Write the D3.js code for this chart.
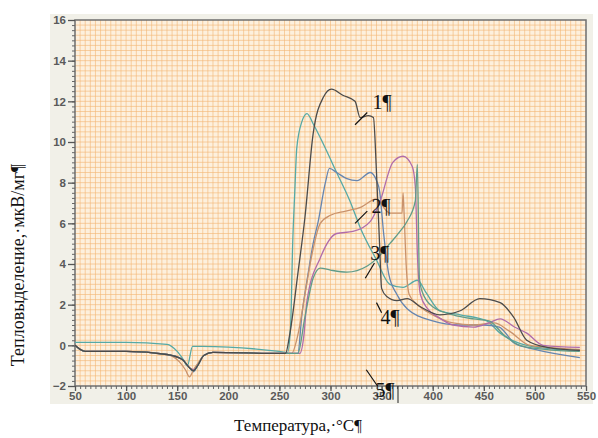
<!DOCTYPE html>
<html>
<head>
<meta charset="utf-8">
<script src="https://cdn.jsdelivr.net/npm/d3@7"></script>
<style>
	body { margin: 0; background: #fff; }
	svg { display: block; }
	.tick text { font-family: 'Liberation Sans', Arial, sans-serif; font-weight: bold; font-size: 11.5px; fill: #5a5a5a; }
	.ttl { font-family: 'Liberation Serif', 'Times New Roman', serif; fill: #111; }
</style>
</head>
<body>
<svg id="chart" width="598" height="438"></svg>
<script>
// ось X - температура, ось Y - тепловыделение
var xTicks = [50, 100, 150, 200, 250, 300, 350, 400, 450, 500, 550]
var yTicks = [-2, 0, 2, 4, 6, 8, 10, 12, 14, 16]

// 1 - тёмная
var temps1 = [50,55,60,100,140,155,162,166,170,176,185,250,256,260,268,275,283,293,301,312,324,329,337,342,345,348,350,355,365,375,388,407,427,446,466,479,492,512,544]
var vals1 = [0,-0.2,-0.3,-0.3,-0.45,-0.7,-1.1,-1.25,-1.0,-0.5,-0.35,-0.4,-0.4,0.5,3.5,6.3,10.4,12.2,12.6,12.3,12.0,11.2,11.3,11.2,8.5,5.0,2.8,2.4,2.2,2.3,1.9,1.5,1.7,2.3,2.1,1.4,0.25,-0.1,-0.25]

// бирюзовая
var temps2 = [50,55,100,140,150,156,160,165,175,250,258,261,263,265,267,272,277,283,293,306,319,329,345,358,371,385,394,407,427,453,466,485,512,544]
var vals2 = [0.15,0.15,0.15,0.05,-0.3,-0.7,-1.0,-0.05,-0.05,-0.3,-0.35,1,5,7.5,9.7,11,11.4,10.9,9.9,8.5,7.1,5.8,4.2,3.0,2.85,3.2,2.55,1.7,1.5,1.2,0.6,0.1,-0.15,-0.25]

// синяя
var temps3 = [50,55,60,100,140,155,162,166,170,176,185,250,268,272,278,283,288,295,299,306,316,326,339,345,348,352,357,365,375,400,425,450,465,480,500,544]
var vals3 = [0,-0.2,-0.3,-0.3,-0.45,-0.7,-1.1,-1.3,-1.0,-0.5,-0.35,-0.4,-0.4,1.5,3.5,5,6.1,8.0,8.7,8.5,8.2,8.1,8.5,8.1,7.6,5.5,3.5,2.5,1.8,1.2,1.0,1.0,0.9,0.1,-0.2,-0.6]

// 2 - коричневая
var temps4 = [50,55,60,100,140,152,158,162,166,170,176,185,250,262,268,275,282,290,300,315,330,345,355,358,370,371,372,374,377,385,400,420,440,460,475,495,544]
var vals4 = [0,-0.2,-0.3,-0.3,-0.45,-0.8,-1.2,-1.55,-1.2,-0.9,-0.5,-0.35,-0.4,-0.4,0.5,2.5,4.5,6.0,6.4,6.6,6.8,7.2,6.6,6.5,6.5,7.5,6.5,4.0,2.5,2.0,1.5,1.1,1.0,1.1,0.7,0.0,-0.2]

// розовая
var temps5 = [50,55,60,100,140,155,162,166,170,176,185,250,270,274,277,290,306,322,339,348,361,371,380,383,385,388,395,405,420,440,455,466,480,492,508,544]
var vals5 = [0,-0.2,-0.3,-0.3,-0.45,-0.7,-1.1,-1.2,-1.0,-0.5,-0.35,-0.4,-0.4,0.5,2.2,4.3,5.5,5.6,6.1,7.0,9.0,9.3,8.8,7.8,4.5,2.5,1.8,1.4,1.0,0.9,1.1,1.3,0.9,0.6,0.0,-0.1]

// 3 - зелёная
var temps6 = [50,55,60,100,140,155,162,166,170,176,185,250,268,275,283,290,300,316,336,346,358,368,375,383,385,387,390,400,420,440,455,470,485,510,544]
var vals6 = [0,-0.2,-0.3,-0.3,-0.45,-0.7,-1.1,-1.25,-1.0,-0.5,-0.35,-0.4,-0.4,1.4,3.3,3.8,3.7,3.6,3.9,4.3,5.0,5.6,6.1,7.1,8.9,3.3,2.6,1.9,1.5,1.3,1.2,0.5,0.0,-0.2,-0.3]

var series = [
	{ t: temps2, v: vals2, c: '#55a9a6' },
	{ t: temps3, v: vals3, c: '#6585b0' },
	{ t: temps4, v: vals4, c: '#c9926c' },
	{ t: temps5, v: vals5, c: '#b06cab' },
	{ t: temps6, v: vals6, c: '#5f9c8a' },
	{ t: temps1, v: vals1, c: '#4b4b4b' }
]

// подписи кривых
var labelText = ['1¶', '2¶', '3¶', '4¶', '5¶']
var labelT = [341, 340, 339, 349, 344]
var labelV = [11.6, 6.5, 4.2, 1.05, -2.55]

var svg = d3.select('#chart')

var x = d3.scaleLinear().domain([50, 550]).range([75, 586])
var y = d3.scaleLinear().domain([-2, 16]).range([386, 20])

// фон скана
svg.append('rect')
	.attr('x', 50).attr('y', 14)
	.attr('width', 543).attr('height', 390)
	.attr('fill', '#f1f0e8')

svg.append('rect')
	.attr('x', x(50)).attr('y', y(16))
	.attr('width', x(550) - x(50)).attr('height', y(-2) - y(16))
	.attr('fill', '#fdf0dd')

var grid = svg.append('g')

grid.selectAll('.gx')
	.data(d3.range(55, 550, 5))
	.enter()
	.append('line')
	.attr('x1', d => x(d)).attr('x2', d => x(d))
	.attr('y1', y(16)).attr('y2', y(-2))
	.attr('stroke', '#f3b673')
	.attr('stroke-width', 1)
	.attr('stroke-opacity', 0.6)

grid.selectAll('.gy')
	.data(d3.range(-1.75, 16, 0.25))
	.enter()
	.append('line')
	.attr('x1', x(50)).attr('x2', x(550))
	.attr('y1', d => y(d)).attr('y2', d => y(d))
	.attr('stroke', '#f3b673')
	.attr('stroke-width', 1)
	.attr('stroke-opacity', 0.6)

// рамка
svg.append('rect')
	.attr('x', x(50)).attr('y', y(16))
	.attr('width', x(550) - x(50)).attr('height', y(-2) - y(16))
	.attr('fill', 'none')
	.attr('stroke', '#6e6e6e')
	.attr('stroke-width', 1.5)

// оси
svg.append('g')
	.attr('transform', 'translate(' + x(50) + ',0)')
	.call(d3.axisLeft(y).tickValues(d3.range(-2, 16.01, 0.25)).tickSize(3).tickFormat(''))
	.call(g => g.select('.domain').remove())
	.selectAll('line').attr('stroke', '#666')

svg.append('g')
	.attr('transform', 'translate(' + x(50) + ',0)')
	.call(d3.axisLeft(y).tickValues(yTicks).tickSize(7).tickPadding(2).tickFormat(d3.format('d')))
	.call(g => g.select('.domain').remove())
	.selectAll('line').attr('stroke', '#555').attr('stroke-width', 1.3)

svg.append('g')
	.attr('transform', 'translate(0,' + y(-2) + ')')
	.call(d3.axisBottom(x).tickValues(d3.range(50, 550.1, 5)).tickSize(3).tickFormat(''))
	.call(g => g.select('.domain').remove())
	.selectAll('line').attr('stroke', '#666')

svg.append('g')
	.attr('transform', 'translate(0,' + y(-2) + ')')
	.call(d3.axisBottom(x).tickValues(xTicks).tickSize(5).tickPadding(1).tickFormat(d3.format('d')))
	.call(g => g.select('.domain').remove())
	.selectAll('line').attr('stroke', '#555').attr('stroke-width', 1.3)

// кривые
var line = d3.line()
	.x(d => x(d[0]))
	.y(d => y(d[1]))
	.curve(d3.curveMonotoneX)

series.forEach(function (s) {
	svg.append('path')
		.datum(d3.zip(s.t, s.v))
		.attr('d', line)
		.attr('fill', 'none')
		.attr('stroke', s.c)
		.attr('stroke-width', 1.3)
})

// выноски
var leaders = [[324, 10.85, 336, 11.45], [324, 6.0, 336, 6.6], [334, 3.3, 343, 4.05], [345, 2.1, 350, 1.6], [335, -1.2, 346, -2.0]]

leaders.forEach(function (l) {
	svg.append('line')
		.attr('x1', x(l[0])).attr('y1', y(l[1]))
		.attr('x2', x(l[2])).attr('y2', y(l[3]))
		.attr('stroke', '#111')
		.attr('stroke-width', 1.2)
})

labelText.forEach(function (t, k) {
	svg.append('text')
		.attr('class', 'ttl')
		.attr('x', x(labelT[k]))
		.attr('y', y(labelV[k]))
		.attr('font-size', 20)
		.text(t)
})

svg.append('line')
	.attr('x1', 398).attr('x2', 398)
	.attr('y1', 386).attr('y2', 403)
	.attr('stroke', '#222').attr('stroke-width', 1)

// подписи осей
svg.append('text')
	.attr('class', 'ttl')
	.attr('x', 298).attr('y', 431)
	.attr('text-anchor', 'middle')
	.attr('font-size', 17)
	.text('Температура,·°С¶')

svg.append('text')
	.attr('class', 'ttl')
	.attr('transform', 'translate(24,265) rotate(-90)')
	.attr('text-anchor', 'middle')
	.attr('font-size', 18)
	.text('Тепловыделение,·мкВ/мг¶')
</script>
</body>
</html>
